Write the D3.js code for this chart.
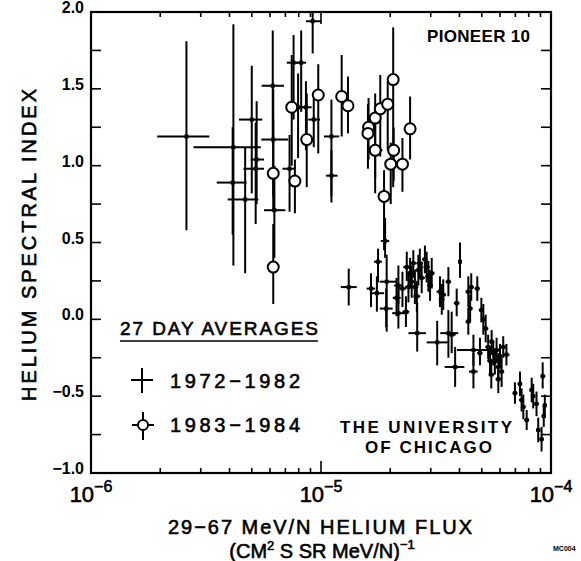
<!DOCTYPE html>
<html>
<head>
<meta charset="utf-8">
<script src="https://cdn.jsdelivr.net/npm/d3@7/dist/d3.min.js"></script>
<style>
  body { margin: 0; background: #fff; }
  text { font-family: "Liberation Sans", Arial, sans-serif; fill: #000; }
  .med { stroke: #000; stroke-width: 0.6px; }
</style>
</head>
<body>
<svg id="chart"></svg>
<script>
// 27 day averages, 1972-1982 : [flux, index, fluxLo, fluxHi, indexLo, indexHi]
var early = [
  [2.6e-6, 1.19, 1.94e-6, 3.27e-6, 0.58, 1.81],
  [4.16e-6, 1.12, 2.79e-6, 5.47e-6, 0.35, 1.92],
  [5.0e-6, 1.30, 4.4e-6, 5.56e-6, 0.82, 1.65],
  [6.17e-6, 1.52, 5.52e-6, 6.9e-6, 1.15, 1.88],
  [4.13e-6, 0.89, 3.52e-6, 4.75e-6, 0.55, 1.25],
  [4.68e-6, 0.78, 3.93e-6, 5.34e-6, 0.30, 1.12],
  [5.2e-6, 0.98, 4.6e-6, 5.65e-6, 0.62, 1.28],
  [5.25e-6, 1.04, 4.95e-6, 5.65e-6, 0.75, 1.42],
  [6.2e-6, 1.17, 5.5e-6, 7.2e-6, 0.80, 1.50],
  [6.27e-6, 0.71, 5.65e-6, 7.0e-6, 0.40, 1.00],
  [7.6e-6, 1.67, 7.1e-6, 8.0e-6, 1.30, 1.85],
  [8.2e-6, 1.67, 7.8e-6, 8.6e-6, 1.35, 1.88],
  [7.95e-6, 1.38, 7.4e-6, 8.5e-6, 1.05, 1.60],
  [8.6e-6, 1.38, 8.2e-6, 9.1e-6, 1.10, 1.55],
  [7.3e-6, 0.98, 6.8e-6, 7.7e-6, 0.70, 1.20],
  [9.3e-6, 1.30, 8.8e-6, 9.9e-6, 1.12, 1.48],
  [1.11e-5, 1.19, 1.03e-5, 1.2e-5, 0.76, 1.43],
  [1.11e-5, 0.935, 1.05e-5, 1.18e-5, 0.80, 1.10],
  [9.2e-6, 1.94, 8.6e-6, 1.0e-5, 1.73, 2.3],
  [1.32e-5, 0.21, 1.22e-5, 1.43e-5, 0.09, 0.33],
  [1.65e-5, 0.20, 1.58e-5, 1.72e-5, 0.08, 0.30],
  [1.75e-5, 0.17, 1.63e-5, 1.88e-5, 0.05, 0.28],
  [1.90e-5, 0.51, 1.82e-5, 1.98e-5, 0.40, 0.66],
  [1.77e-5, 0.375, 1.70e-5, 1.84e-5, 0.24, 0.46],
  [1.93e-5, 0.245, 1.80e-5, 2.12e-5, -0.08, 0.42],
  [1.92e-5, 0.07, 1.80e-5, 2.05e-5, -0.05, 0.20],
  [2.17e-5, 0.22, 2.08e-5, 2.27e-5, 0.10, 0.35],
  [2.13e-5, 0.14, 2.05e-5, 2.22e-5, 0.02, 0.27],
  [2.17e-5, 0.04, 2.04e-5, 2.40e-5, -0.06, 0.22],
  [2.34e-5, 0.05, 2.26e-5, 2.42e-5, -0.05, 0.15],
  [2.26e-5, 0.20, 2.18e-5, 2.34e-5, 0.08, 0.31],
  [2.36e-5, 0.34, 2.28e-5, 2.44e-5, 0.25, 0.44],
  [2.44e-5, 0.30, 2.36e-5, 2.52e-5, 0.20, 0.40],
  [2.48e-5, 0.245, 2.40e-5, 2.56e-5, 0.14, 0.35],
  [2.56e-5, 0.21, 2.47e-5, 2.65e-5, 0.10, 0.32],
  [2.61e-5, 0.15, 2.52e-5, 2.70e-5, 0.05, 0.25],
  [2.65e-5, 0.32, 2.56e-5, 2.74e-5, 0.22, 0.42],
  [2.69e-5, 0.365, 2.60e-5, 2.78e-5, 0.27, 0.46],
  [2.52e-5, 0.365, 2.44e-5, 2.60e-5, 0.27, 0.45],
  [2.74e-5, 0.27, 2.65e-5, 2.83e-5, 0.17, 0.37],
  [2.88e-5, 0.34, 2.79e-5, 2.97e-5, 0.24, 0.44],
  [2.93e-5, 0.28, 2.84e-5, 3.02e-5, 0.18, 0.38],
  [2.98e-5, 0.22, 2.89e-5, 3.07e-5, 0.12, 0.32],
  [2.83e-5, 0.39, 2.75e-5, 2.91e-5, 0.30, 0.48],
  [3.03e-5, 0.30, 2.94e-5, 3.12e-5, 0.20, 0.40],
  [2.40e-5, 0.21, 2.32e-5, 2.48e-5, 0.11, 0.31],
  [3.29e-5, 0.18, 3.18e-5, 3.40e-5, 0.08, 0.28],
  [3.40e-5, 0.16, 3.30e-5, 3.50e-5, 0.06, 0.26],
  [3.58e-5, 0.245, 3.48e-5, 3.68e-5, 0.15, 0.34],
  [3.35e-5, 0.13, 3.25e-5, 3.45e-5, 0.03, 0.23],
  [3.89e-5, 0.105, 3.78e-5, 4.00e-5, 0.02, 0.20],
  [4.02e-5, 0.375, 3.94e-5, 4.10e-5, 0.27, 0.50],
  [4.37e-5, 0.18, 4.25e-5, 4.49e-5, 0.08, 0.28],
  [4.50e-5, 0.21, 4.38e-5, 4.62e-5, 0.12, 0.30],
  [4.78e-5, 0.20, 4.65e-5, 4.90e-5, 0.12, 0.28],
  [4.45e-5, 0.07, 4.33e-5, 4.57e-5, -0.02, 0.16],
  [4.37e-5, -0.015, 4.25e-5, 4.49e-5, -0.10, 0.07],
  [5.08e-5, 0.0, 4.95e-5, 5.21e-5, -0.10, 0.10],
  [4.98e-5, 0.06, 4.85e-5, 5.10e-5, -0.02, 0.14],
  [5.20e-5, -0.06, 5.06e-5, 5.34e-5, -0.15, 0.03],
  [4.91e-5, -0.22, 4.78e-5, 5.04e-5, -0.30, -0.12],
  [4.60e-5, -0.20, 3.90e-5, 5.50e-5, -0.30, -0.10],
  [4.60e-5, -0.34, 4.40e-5, 4.80e-5, -0.45, -0.22],
  [2.62e-5, -0.09, 2.40e-5, 2.86e-5, -0.21, 0.11],
  [3.20e-5, -0.15, 2.88e-5, 3.58e-5, -0.30, -0.01],
  [3.58e-5, -0.09, 3.30e-5, 3.95e-5, -0.25, 0.06],
  [3.83e-5, -0.31, 3.45e-5, 4.20e-5, -0.44, -0.18],
  [3.70e-5, -0.10, 3.55e-5, 3.85e-5, -0.22, 0.05],
  [5.33e-5, -0.18, 5.18e-5, 5.48e-5, -0.26, -0.10],
  [5.52e-5, -0.145, 5.37e-5, 5.67e-5, -0.22, -0.07],
  [5.61e-5, -0.22, 5.46e-5, 5.76e-5, -0.30, -0.14],
  [5.80e-5, -0.20, 5.64e-5, 5.96e-5, -0.28, -0.12],
  [6.00e-5, -0.24, 5.84e-5, 6.16e-5, -0.32, -0.16],
  [5.70e-5, -0.275, 5.55e-5, 5.85e-5, -0.36, -0.19],
  [5.90e-5, -0.31, 5.74e-5, 6.06e-5, -0.40, -0.22],
  [6.10e-5, -0.34, 5.94e-5, 6.26e-5, -0.44, -0.25],
  [5.90e-5, -0.39, 5.74e-5, 6.06e-5, -0.48, -0.30],
  [5.43e-5, -0.27, 5.28e-5, 5.58e-5, -0.36, -0.18],
  [6.40e-5, -0.23, 6.20e-5, 6.60e-5, -0.30, -0.16],
  [6.20e-5, -0.18, 6.04e-5, 6.36e-5, -0.25, -0.11],
  [5.50e-5, -0.36, 5.35e-5, 5.65e-5, -0.45, -0.27],
  [6.97e-5, -0.48, 6.80e-5, 7.15e-5, -0.55, -0.41],
  [7.33e-5, -0.42, 7.15e-5, 7.50e-5, -0.50, -0.34],
  [7.45e-5, -0.525, 7.27e-5, 7.63e-5, -0.60, -0.45],
  [7.58e-5, -0.57, 7.40e-5, 7.76e-5, -0.65, -0.49],
  [7.84e-5, -0.655, 7.65e-5, 8.03e-5, -0.72, -0.59],
  [8.24e-5, -0.46, 8.05e-5, 8.43e-5, -0.54, -0.38],
  [8.37e-5, -0.50, 8.18e-5, 8.56e-5, -0.58, -0.42],
  [8.65e-5, -0.55, 8.45e-5, 8.85e-5, -0.63, -0.47],
  [8.80e-5, -0.72, 8.60e-5, 9.00e-5, -0.80, -0.64],
  [9.20e-5, -0.37, 9.00e-5, 9.45e-5, -0.45, -0.28],
  [9.30e-5, -0.63, 9.10e-5, 9.50e-5, -0.70, -0.56],
  [9.10e-5, -0.78, 8.90e-5, 9.30e-5, -0.86, -0.70],
  [9.40e-5, -0.56, 9.20e-5, 9.60e-5, -0.63, -0.49]
];

// 27 day averages, 1983-1984
var late = [
  [7.46e-6, 1.38, 7.2e-6, 7.75e-6, 1.00, 1.72],
  [8.67e-6, 1.17, 8.35e-6, 9.0e-6, 0.86, 1.47],
  [7.7e-6, 0.90, 7.4e-6, 8.0e-6, 0.69, 1.04],
  [9.73e-6, 1.46, 9.4e-6, 1.01e-5, 1.08, 1.66],
  [1.23e-5, 1.45, 1.19e-5, 1.27e-5, 1.19, 1.72],
  [1.31e-5, 1.39, 1.27e-5, 1.35e-5, 1.21, 1.58],
  [1.61e-5, 1.25, 1.55e-5, 1.67e-5, 1.04, 1.44],
  [1.60e-5, 1.21, 1.54e-5, 1.66e-5, 0.98, 1.40],
  [1.72e-5, 1.31, 1.66e-5, 1.78e-5, 0.82, 1.47],
  [1.81e-5, 1.37, 1.75e-5, 1.87e-5, 1.06, 1.59],
  [1.95e-5, 1.40, 1.89e-5, 2.01e-5, 1.10, 1.55],
  [2.06e-5, 1.56, 2.0e-5, 2.12e-5, 0.86, 1.90],
  [1.72e-5, 1.10, 1.62e-5, 1.85e-5, 0.92, 1.28],
  [2.07e-5, 1.10, 2.0e-5, 2.17e-5, 0.90, 1.25],
  [2.01e-5, 1.01, 1.95e-5, 2.07e-5, 0.75, 1.15],
  [2.26e-5, 1.01, 2.18e-5, 2.34e-5, 0.83, 1.18],
  [2.44e-5, 1.24, 2.36e-5, 2.52e-5, 1.04, 1.45],
  [1.88e-5, 0.80, 1.82e-5, 1.94e-5, 0.45, 0.97],
  [6.2e-6, 0.95, 5.95e-6, 6.45e-6, 0.70, 1.30],
  [6.2e-6, 0.34, 5.95e-6, 6.45e-6, 0.10, 0.62]
];

var xDomain = [1e-6, 1e-4];
var yDomain = [-1.0, 2.0];
var yTicks = [-1.0, -0.75, -0.5, -0.25, 0.0, 0.25, 0.5, 0.75, 1.0, 1.25, 1.5, 1.75, 2.0];
var yLabels = [-1.0, -0.5, 0.0, 0.5, 1.0, 1.5, 2.0];
var xDecades = [1e-6, 1e-5, 1e-4];
var xDecadeExp = ["-6", "-5", "-4"];

var width = 581, height = 561;
var plotL = 91, plotR = 551, plotT = 12, plotB = 473;

var svg = d3.select("#chart")
    .attr("width", width)
    .attr("height", height);

var x = d3.scaleLog().domain(xDomain).range([plotL, plotR]);
var y = d3.scaleLinear().domain(yDomain).range([plotB, plotT]);

svg.append("defs").append("clipPath").attr("id", "plotclip")
  .append("rect")
    .attr("x", plotL).attr("y", plotT)
    .attr("width", plotR - plotL).attr("height", plotB - plotT);

// minor log ticks
var xMinor = x.ticks().filter(function(d){ return xDecades.indexOf(d) < 0; });

var ticks = svg.append("g").attr("stroke", "#000").attr("stroke-width", 1.6);
xMinor.forEach(function(d){
  ticks.append("line").attr("x1", x(d)).attr("x2", x(d)).attr("y1", plotB).attr("y2", plotB - 5);
  ticks.append("line").attr("x1", x(d)).attr("x2", x(d)).attr("y1", plotT).attr("y2", plotT + 5);
});
xDecades.forEach(function(d){
  ticks.append("line").attr("x1", x(d)).attr("x2", x(d)).attr("y1", plotB).attr("y2", plotB - 12);
  ticks.append("line").attr("x1", x(d)).attr("x2", x(d)).attr("y1", plotT).attr("y2", plotT + 12);
});
yTicks.forEach(function(d){
  ticks.append("line").attr("x1", plotL).attr("x2", plotL + 10).attr("y1", y(d)).attr("y2", y(d));
  ticks.append("line").attr("x1", plotR).attr("x2", plotR - 10).attr("y1", y(d)).attr("y2", y(d));
});

svg.append("rect")
  .attr("x", plotL).attr("y", plotT)
  .attr("width", plotR - plotL).attr("height", plotB - plotT)
  .attr("fill", "none").attr("stroke", "#000").attr("stroke-width", 2.2);

// y tick labels
svg.selectAll(".ylab").data(yLabels).enter().append("text")
  .attr("class", "ylab")
  .attr("x", plotL - 7)
  .attr("y", function(d){ return y(d) + 1; })
  .attr("text-anchor", "end")
  .attr("font-size", "16px")
  .attr("font-weight", "bold")
  .text(function(d){ return d3.format(".1f")(d).replace("-", "\u2212"); });

// x tick labels
xDecades.forEach(function(d, i){
  var t = svg.append("text")
    .attr("class", "med")
    .attr("x", x(d))
    .attr("y", 502)
    .attr("text-anchor", "middle")
    .attr("font-size", "22px");
  t.append("tspan").text("10");
  t.append("tspan").attr("dy", -10).attr("font-size", "16px").text("\u2212" + xDecadeExp[i].slice(1));
});

// axis titles
svg.append("text")
  .attr("class", "med")
  .attr("transform", "translate(36,245) rotate(-90)")
  .attr("text-anchor", "middle")
  .attr("font-size", "20px")
  .attr("textLength", 312).attr("lengthAdjust", "spacing")
  .text("HELIUM SPECTRAL INDEX");

svg.append("text")
  .attr("class", "med")
  .attr("x", 320).attr("y", 534)
  .attr("text-anchor", "middle")
  .attr("font-size", "20px")
  .attr("textLength", 304).attr("lengthAdjust", "spacing")
  .text("29\u221267 MeV/N HELIUM FLUX");

var t2 = svg.append("text")
  .attr("class", "med")
  .attr("x", 322).attr("y", 558)
  .attr("text-anchor", "middle")
  .attr("font-size", "20px");
t2.append("tspan").text("(CM");
t2.append("tspan").attr("dy", -8).attr("font-size", "13px").text("2");
t2.append("tspan").attr("dy", 8).text(" S SR MeV/N)");
t2.append("tspan").attr("dy", -9).attr("font-size", "13px").text("\u22121");

svg.append("text")
  .attr("x", 553).attr("y", 551)
  .attr("font-size", "7px").attr("font-weight", "bold")
  .text("MC004");

// annotations
svg.append("text")
  .attr("x", 427).attr("y", 42)
  .attr("font-size", "17px").attr("font-weight", "bold")
  .attr("textLength", 103).attr("lengthAdjust", "spacing")
  .text("PIONEER 10");
svg.append("text")
  .attr("x", 340).attr("y", 433)
  .attr("font-size", "17px").attr("font-weight", "bold")
  .attr("textLength", 172).attr("lengthAdjust", "spacing")
  .text("THE UNIVERSITY");
svg.append("text")
  .attr("x", 365).attr("y", 453)
  .attr("font-size", "17px").attr("font-weight", "bold")
  .attr("textLength", 127).attr("lengthAdjust", "spacing")
  .text("OF CHICAGO");

// legend
var leg = svg.append("g");
leg.append("text")
  .attr("class", "med")
  .attr("x", 120).attr("y", 335)
  .attr("font-size", "19px")
  .attr("textLength", 198).attr("lengthAdjust", "spacing")
  .text("27 DAY AVERAGES");
leg.append("line").attr("x1", 120).attr("x2", 318).attr("y1", 341).attr("y2", 341)
  .attr("stroke", "#000").attr("stroke-width", 1.6);
leg.append("line").attr("x1", 131).attr("x2", 153).attr("y1", 380).attr("y2", 380)
  .attr("stroke", "#000").attr("stroke-width", 2);
leg.append("line").attr("x1", 142).attr("x2", 142).attr("y1", 368).attr("y2", 393)
  .attr("stroke", "#000").attr("stroke-width", 2);
leg.append("text")
  .attr("class", "med")
  .attr("x", 170).attr("y", 388)
  .attr("font-size", "20px")
  .attr("textLength", 130).attr("lengthAdjust", "spacing")
  .text("1972\u22121982");
leg.append("line").attr("x1", 132).attr("x2", 154).attr("y1", 425).attr("y2", 425)
  .attr("stroke", "#000").attr("stroke-width", 2);
leg.append("line").attr("x1", 143).attr("x2", 143).attr("y1", 412).attr("y2", 440)
  .attr("stroke", "#000").attr("stroke-width", 2);
leg.append("circle").attr("cx", 143).attr("cy", 425).attr("r", 5)
  .attr("fill", "#fff").attr("stroke", "#000").attr("stroke-width", 2);
leg.append("text")
  .attr("class", "med")
  .attr("x", 170).attr("y", 432)
  .attr("font-size", "20px")
  .attr("textLength", 130).attr("lengthAdjust", "spacing")
  .text("1983\u22121984");

// data marks
var plot = svg.append("g").attr("clip-path", "url(#plotclip)");

function bars(g, data) {
  g.selectAll(".h").data(data).enter().append("line")
    .attr("x1", function(d){ return x(d[2]); })
    .attr("x2", function(d){ return x(d[3]); })
    .attr("y1", function(d){ return y(d[1]); })
    .attr("y2", function(d){ return y(d[1]); })
    .attr("stroke", "#000").attr("stroke-width", 2);
  g.selectAll(".v").data(data).enter().append("line")
    .attr("x1", function(d){ return x(d[0]); })
    .attr("x2", function(d){ return x(d[0]); })
    .attr("y1", function(d){ return y(d[4]); })
    .attr("y2", function(d){ return y(d[5]); })
    .attr("stroke", "#000").attr("stroke-width", 2);
}

var gEarly = plot.append("g");
bars(gEarly, early);
gEarly.selectAll("rect").data(early).enter().append("rect")
  .attr("x", function(d){ return x(d[0]) - 2; })
  .attr("y", function(d){ return y(d[1]) - 2; })
  .attr("width", 4).attr("height", 4)
  .attr("fill", "#000");

var gLate = plot.append("g");
bars(gLate, late);
gLate.selectAll("circle").data(late).enter().append("circle")
  .attr("cx", function(d){ return x(d[0]); })
  .attr("cy", function(d){ return y(d[1]); })
  .attr("r", 5.5)
  .attr("fill", "#fff").attr("stroke", "#000").attr("stroke-width", 2);
</script>
</body>
</html>
